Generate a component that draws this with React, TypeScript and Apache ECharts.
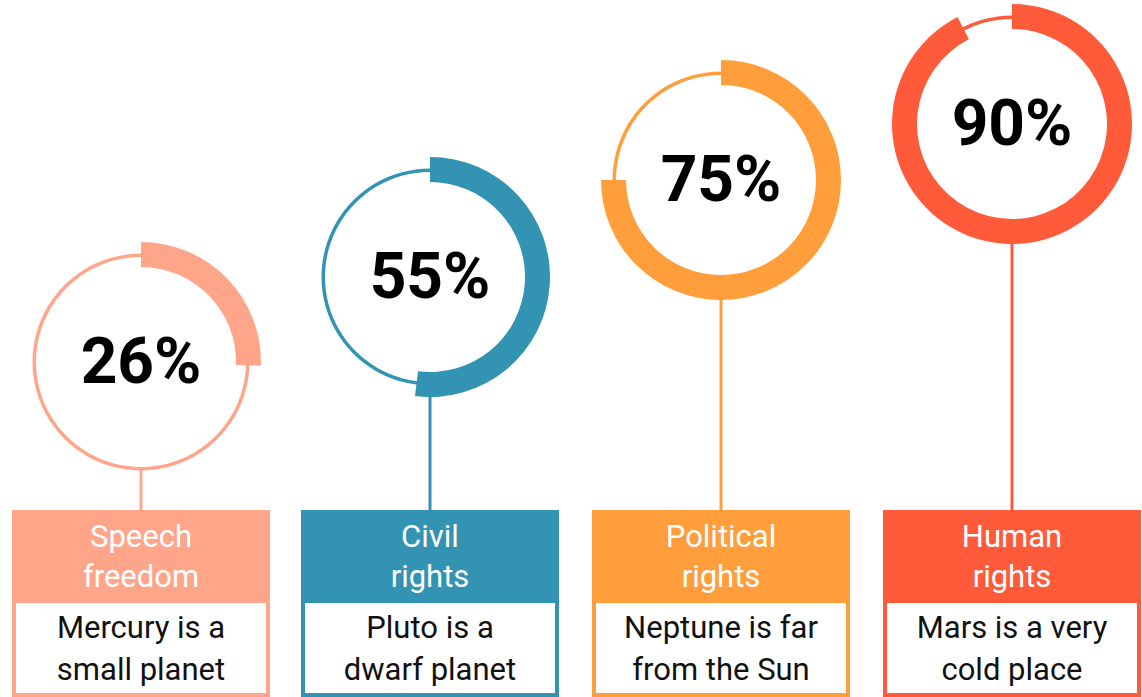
import React, { useEffect, useRef } from "react";
import * as echarts from "echarts";

// ---- data ----
const categories = ["Speech\nfreedom", "Civil\nrights", "Political\nrights", "Human\nrights"];
const descriptions = [
  "Mercury is a\nsmall planet",
  "Pluto is a\ndwarf planet",
  "Neptune is far\nfrom the Sun",
  "Mars is a very\ncold place",
];
// printed labels
const percentages = [26, 55, 75, 90];
// extent of the drawn thick arcs (percent of a full turn)
const arcValues = [25.5, 52, 75, 92.5];

// ---- styles / layout ----
const colors = ["#FFA68A", "#3393B3", "#FF9E3A", "#FF5A3A"];
const centers = [
  [141, 362],
  [430, 277],
  [721, 180],
  [1012, 124],
];
const W = 1142;
const H = 697;
const CARD_W = 258;
const CARD_TOP = 510;
const HEADER_BOTTOM = 603;
const BORDER = 4;
const THIN_R: [number, number] = [105, 108.5];
const THICK_R: [number, number] = [95, 120];

export default function App() {
  const ref = useRef<HTMLDivElement>(null);

  useEffect(() => {
    if (!ref.current) return;
    const chart = echarts.init(ref.current, null, { renderer: "svg" });

    const series: any[] = [];
    const graphic: any[] = [];

    percentages.forEach((v, i) => {
      const [cx, cy] = centers[i];
      const color = colors[i];
      const arc = arcValues[i];
      series.push({
        type: "pie",
        center: [cx, cy],
        radius: THIN_R,
        silent: true,
        label: { show: false },
        labelLine: { show: false },
        itemStyle: { color, borderWidth: 0 },
        emphasis: { disabled: true },
        data: [{ value: 100, name: "ring" + i }],
        z: 1,
      });
      series.push({
        type: "pie",
        center: [cx, cy],
        radius: THICK_R,
        startAngle: 90,
        clockwise: true,
        silent: true,
        label: { show: false },
        labelLine: { show: false },
        emphasis: { disabled: true },
        itemStyle: { borderWidth: 0 },
        data: [
          { value: arc, name: "v" + i, itemStyle: { color } },
          { value: 100 - arc, name: "rest" + i, itemStyle: { color: "rgba(0,0,0,0)" } },
        ],
        z: 2,
      });

      const left = cx - CARD_W / 2;
      // stem
      graphic.push({
        type: "line",
        shape: { x1: cx, y1: cy + THIN_R[1] - 1, x2: cx, y2: CARD_TOP },
        style: { stroke: color, lineWidth: 3 },
        silent: true,
      });
      // card
      graphic.push({
        type: "rect",
        shape: { x: left, y: CARD_TOP, width: CARD_W, height: H - CARD_TOP },
        style: { fill: color },
        silent: true,
      });
      graphic.push({
        type: "rect",
        shape: {
          x: left + BORDER,
          y: HEADER_BOTTOM,
          width: CARD_W - 2 * BORDER,
          height: H - HEADER_BOTTOM - BORDER,
        },
        style: { fill: "#ffffff" },
        silent: true,
      });
      // header text
      graphic.push({
        type: "text",
        x: cx,
        y: (CARD_TOP + HEADER_BOTTOM) / 2,
        style: {
          text: categories[i],
          fill: "#ffffff",
          font: "31px Roboto",
          lineHeight: 40,
          align: "center",
          verticalAlign: "middle",
        },
        silent: true,
      });
      // description
      graphic.push({
        type: "text",
        x: cx,
        y: (HEADER_BOTTOM + H - BORDER) / 2,
        style: {
          text: descriptions[i],
          fill: "#111111",
          font: "31px Roboto",
          lineHeight: 42,
          align: "center",
          verticalAlign: "middle",
        },
        silent: true,
      });
      // percent
      graphic.push({
        type: "text",
        x: cx,
        y: cy - 1,
        style: {
          text: v + "%",
          fill: "#000000",
          font: "bold 64px Roboto",
          align: "center",
          verticalAlign: "middle",
        },
        silent: true,
      });
    });

    chart.setOption({
      animation: false,
      backgroundColor: "#ffffff",
      series,
      graphic,
    });

    return () => chart.dispose();
  }, []);

  return (
    <div
      ref={ref}
      style={{ position: "fixed", left: 0, top: 0, width: W, height: H }}
    />
  );
}
